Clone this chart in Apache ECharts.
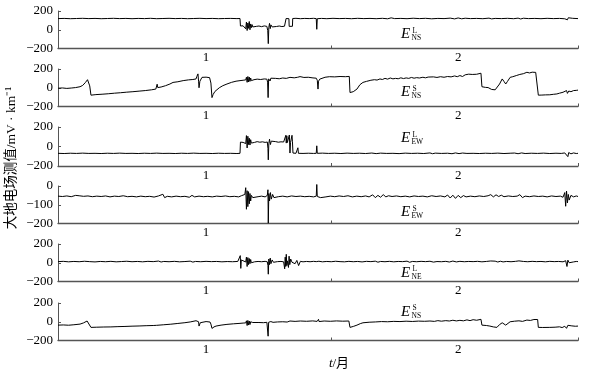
<!DOCTYPE html>
<html><head><meta charset="utf-8">
<script src="https://cdn.jsdelivr.net/npm/echarts@6/dist/echarts.min.js"></script>
<style>html,body{margin:0;padding:0;background:#fff}#c{width:589px;height:378px}</style>
</head><body><div id="c"></div>
<script>
// ---- data (x = day since start of month 1, y = mV/km) ----
const monthLabels = ['1', '2'];
const monthLabelDays = [16.8, 45.4];
const monthTickDays = [0, 31, 59];
const panelSup = ['L', 'S', 'L', 'S', 'L', 'S'];
const panelSub = ['NS', 'NS', 'EW', 'EW', 'NE', 'NS'];
const yTicksA = [-200, 0, 200];
const yTicksB = [-200, -100, 0];

const nsL = [[0,119],[0.7,121],[1.4,118],[2.1,120],[2.8,122],[3.5,119],[4.2,121],[4.9,118],[5.6,120],[6.3,122],[7.0,119],[7.7,121],[8.4,118],[9.1,121],[9.8,119],[10.5,122],[11.2,118],[11.9,120],[12.6,122],[13.3,119],[14.0,121],[14.7,118],[15.4,120],[16.1,122],[16.8,119],[17.5,121],[18.2,118],[18.9,120],[19.6,121],[20.3,119],[20.65,120],
[20.7,40],[20.85,25],[21.0,42],[21.15,30],[21.3,10],[21.38,82],[21.46,-8],[21.54,72],[21.62,15],[21.7,88],[21.78,0],[21.86,62],[21.94,22],[22.02,55],[22.1,30],[22.25,44],[22.5,36],[22.8,40],[23.1,33],[23.4,41],[23.7,36],[23.8,-10],[23.86,-148],[23.92,25],[24.0,68],[24.08,12],[24.16,52],[24.3,30],[24.5,42],[24.8,35],[25.1,40],[25.4,34],[25.7,38],[25.85,36],[25.88,120],[26.0,122],[26.2,118],[26.23,36],[26.4,33],[26.6,37],[26.63,120],[27.0,122],[27.5,118],[28.0,121],[28.5,119],[29.0,122],[29.3,119],[29.36,5],[29.42,118],[29.9,121],[30.5,118],[31.2,122],[31.9,119],[32.6,121],[33.3,118],[34.0,122],[34.7,119],[35.4,121],[36.1,118],[36.8,122],[37.4,117],[37.8,127],[38.2,119],[38.9,121],[39.6,118],[40.3,123],[41.0,119],[41.7,122],[42.4,117],[43.1,121],[43.8,119],[44.5,124],[45.0,116],[45.4,126],[45.8,117],[46.2,123],[46.8,119],[47.5,121],[48.2,118],[48.9,124],[49.2,116],[49.6,121],[50.3,119],[51.0,122],[51.7,118],[52.2,124],[52.5,115],[52.8,123],[53.4,119],[54.1,121],[54.8,118],[55.5,122],[56.2,119],[56.9,121],[57.5,117],[57.7,132],[57.8,106],[57.9,128],[58.1,114],[58.4,122],[59,119]];

const nsS = [[0,-5],[0.5,-2],[1.0,-7],[1.5,-3],[2.0,2],[2.5,11],[2.8,25],[3.1,55],[3.35,86],[3.5,70],[3.6,20],[3.74,-79],[4.3,-73],[5.0,-69],[5.7,-64],[6.4,-58],[7.1,-53],[7.8,-47],[8.5,-42],[9.2,-36],[9.9,-30],[10.6,-22],[11.1,-14],[11.2,-8],[11.25,38],[11.32,2],[11.7,8],[12.2,22],[12.7,40],[13.05,57],[13.6,64],[14.2,76],[14.8,84],[15.3,88],[15.66,94],[15.75,120],[15.88,148],[15.95,70],[16.0,0],[16.1,70],[16.34,111],[16.8,113],[17.2,108],[17.35,50],[17.47,-105],[17.6,-72],[17.8,-40],[17.93,-25],[18.3,0],[18.7,22],[19.17,40],[19.7,58],[20.2,70],[20.65,76],[21.0,80],[21.3,84],[21.38,112],[21.46,58],[21.54,120],[21.62,62],[21.7,114],[21.78,68],[21.86,104],[21.94,76],[22.05,96],[22.24,86],[22.6,92],[23.0,88],[23.4,94],[23.7,92],[23.78,60],[23.84,-105],[23.9,95],[23.98,112],[24.06,72],[24.15,102],[24.3,90],[24.7,100],[25.1,96],[25.5,104],[25.9,100],[26.32,111],[26.8,106],[27.2,112],[27.46,119],[27.9,110],[28.4,112],[28.93,105],[29.3,102],[29.42,80],[29.5,-14],[29.56,70],[29.7,92],[29.9,100],[30.3,112],[30.8,118],[31.4,116],[32.0,120],[32.6,118],[33.05,121],[33.13,-51],[33.5,-42],[33.92,-14],[34.25,32],[34.6,57],[35.0,68],[35.5,80],[35.9,86],[36.2,82],[36.53,94],[36.8,88],[37.1,100],[37.4,92],[37.7,104],[38.0,95],[38.3,100],[38.6,96],[38.9,106],[39.2,98],[39.5,105],[39.8,100],[40.1,110],[40.4,102],[40.7,108],[41.0,104],[41.4,112],[41.7,106],[42.0,114],[42.2,111],[42.6,116],[43.0,110],[43.4,118],[43.8,112],[44.2,120],[44.6,116],[45.0,126],[45.3,118],[45.6,130],[45.9,120],[46.2,138],[46.4,124],[46.6,145],[46.75,128],[47.0,142],[47.2,130],[47.5,144],[47.7,136],[47.99,155],[48.06,150],[48.1,11],[48.5,4],[48.8,2],[49.0,-3],[49.2,-18],[49.4,-32],[49.6,-22],[49.8,-14],[50.1,40],[50.4,94],[50.6,68],[50.8,40],[51.0,68],[51.3,111],[51.6,118],[51.8,106],[52.0,130],[52.2,118],[52.4,142],[52.6,128],[52.8,150],[53.0,140],[53.2,165],[53.5,158],[53.8,166],[54.2,164],[54.42,160],[54.5,-79],[54.9,-78],[55.3,-76],[55.8,-75],[56.2,-70],[56.6,-66],[56.9,-58],[57.1,-72],[57.3,-48],[57.5,-56],[57.7,-30],[57.8,-60],[57.95,-35],[58.2,-42],[58.5,-30],[58.8,-28],[59,-25]];

const ewL = [[0,-70],[0.7,-72],[1.4,-69],[2.1,-71],[2.8,-68],[3.5,-71],[4.2,-70],[4.9,-72],[5.6,-69],[6.3,-71],[7.0,-68],[7.7,-71],[8.4,-70],[9.1,-72],[9.8,-69],[10.5,-71],[11.2,-68],[11.9,-71],[12.6,-70],[13.3,-72],[14.0,-69],[14.7,-71],[15.4,-68],[16.1,-71],[16.8,-70],[17.5,-72],[18.2,-69],[18.9,-71],[19.6,-70],[20.3,-72],[20.65,-70],
[20.7,45],[20.85,52],[21.0,42],[21.15,50],[21.3,30],[21.38,112],[21.46,-15],[21.54,105],[21.62,20],[21.7,85],[21.78,15],[21.86,70],[21.94,35],[22.1,55],[22.3,42],[22.6,50],[22.9,44],[23.2,48],[23.5,42],[23.75,46],[23.82,-20],[23.86,-137],[23.92,30],[24.0,75],[24.1,20],[24.2,55],[24.4,45],[24.7,50],[25.0,44],[25.3,48],[25.6,46],[25.8,48],[25.85,115],[25.9,35],[25.96,110],[26.02,40],[26.2,42],[26.25,118],[26.32,-67],[26.38,40],[26.5,45],[26.55,115],[26.6,48],[26.66,-67],[27.0,-70],[27.15,-68],[27.22,-13],[27.28,-70],[27.8,-71],[28.4,-69],[29.0,-71],[29.3,-70],[29.36,7],[29.42,-70],[30.0,-68],[30.7,-71],[31.4,-69],[32.1,-72],[32.8,-68],[33.5,-71],[34.2,-69],[34.9,-72],[35.6,-67],[36.1,-73],[36.6,-68],[37.3,-71],[38.0,-70],[38.7,-73],[39.4,-68],[40.1,-71],[40.8,-69],[41.5,-72],[42.2,-66],[42.5,-74],[42.8,-68],[43.5,-71],[44.2,-69],[44.7,-74],[45.1,-66],[45.5,-73],[45.9,-67],[46.4,-71],[47.1,-70],[47.8,-72],[48.5,-69],[49.2,-71],[49.9,-68],[50.6,-72],[51.3,-69],[51.8,-67],[52.2,-74],[52.6,-66],[53.0,-72],[53.7,-69],[54.4,-71],[55.1,-68],[55.8,-72],[56.5,-69],[57.1,-71],[57.5,-66],[57.7,-80],[57.85,-104],[57.95,-62],[58.2,-75],[58.5,-66],[58.8,-72],[59,-70]];

const ewS = [[0,-54],[0.5,-56],[1.0,-53],[1.5,-57],[2.0,-50],[2.2,-43],[2.4,-52],[2.9,-55],[3.4,-53],[3.9,-57],[4.4,-54],[4.9,-56],[5.4,-53],[5.9,-58],[6.4,-54],[6.9,-56],[7.4,-52],[7.9,-57],[8.4,-55],[8.9,-58],[9.4,-54],[9.9,-57],[10.4,-55],[10.9,-59],[11.4,-53],[11.9,-44],[12.1,-62],[12.4,-55],[12.9,-58],[13.4,-54],[13.9,-57],[14.4,-55],[14.9,-60],[15.2,-50],[15.5,-58],[16.0,-54],[16.5,-57],[17.0,-55],[17.5,-58],[18.0,-54],[18.5,-56],[19.0,-53],[19.5,-57],[20.0,-55],[20.5,-58],[20.8,-52],[21.0,-60],[21.2,-45],[21.3,-9],[21.38,-124],[21.46,-25],[21.54,-110],[21.62,-30],[21.7,-95],[21.78,-40],[21.86,-80],[21.94,-50],[22.1,-62],[22.3,-52],[22.7,-57],[23.1,-54],[23.5,-58],[23.75,-50],[23.82,-20],[23.86,-198],[23.92,-40],[24.0,-80],[24.1,-35],[24.2,-70],[24.35,-45],[24.5,-62],[24.7,-52],[25.0,-57],[25.5,-54],[26.0,-58],[26.5,-53],[27.0,-56],[27.5,-54],[28.0,-57],[28.5,-55],[29.0,-58],[29.3,-54],[29.36,8],[29.42,-56],[29.6,-50],[29.8,-62],[30.0,-52],[30.4,-58],[30.9,-54],[31.4,-57],[31.9,-53],[32.4,-56],[32.9,-52],[33.4,-58],[33.9,-54],[34.4,-57],[34.9,-53],[35.3,-58],[35.7,-47],[36.0,-62],[36.3,-50],[36.6,-60],[36.9,-46],[37.2,-58],[37.5,-52],[37.9,-56],[38.4,-53],[38.9,-57],[39.4,-54],[39.9,-58],[40.4,-53],[40.9,-56],[41.4,-54],[41.9,-58],[42.4,-52],[42.9,-56],[43.4,-53],[43.9,-58],[44.2,-48],[44.5,-64],[44.8,-49],[45.1,-66],[45.4,-50],[45.7,-62],[46.0,-51],[46.3,-58],[46.8,-54],[47.3,-57],[47.8,-53],[48.3,-56],[48.8,-52],[49.1,-46],[49.4,-58],[49.7,-47],[50.0,-56],[50.3,-49],[50.6,-57],[51.1,-53],[51.6,-56],[52.1,-54],[52.4,-46],[52.7,-62],[53.0,-54],[53.5,-57],[54.0,-53],[54.5,-56],[55.0,-54],[55.5,-58],[56.0,-53],[56.5,-56],[57.0,-54],[57.3,-60],[57.5,-35],[57.6,-108],[57.7,-27],[57.8,-90],[57.9,-45],[58.0,-75],[58.2,-50],[58.5,-58],[58.8,-53],[59,-56]];

const neL = [[0,12],[0.6,15],[1.2,10],[1.8,14],[2.4,11],[3.0,16],[3.6,12],[4.2,9],[4.8,14],[5.4,11],[6.0,15],[6.6,10],[7.2,13],[7.8,16],[8.4,11],[9.0,14],[9.6,10],[10.2,15],[10.8,12],[11.4,18],[11.7,8],[12.0,14],[12.6,11],[13.2,15],[13.8,10],[14.4,13],[15.0,17],[15.3,7],[15.6,14],[16.2,11],[16.8,15],[17.4,12],[18.0,14],[18.6,10],[19.2,13],[19.8,11],[20.4,14],[20.6,10],[20.68,76],[20.74,-60],[20.8,30],[20.9,10],[21.0,14],[21.3,8],[21.38,60],[21.46,-40],[21.54,55],[21.62,-20],[21.7,45],[21.78,-10],[21.86,35],[21.94,0],[22.1,18],[22.3,10],[22.7,14],[23.1,11],[23.5,15],[23.75,10],[23.82,-30],[23.86,-122],[23.92,40],[24.0,-20],[24.08,50],[24.16,-10],[24.3,30],[24.45,5],[24.6,18],[24.9,12],[25.3,14],[25.6,10],[25.72,-65],[25.78,60],[25.84,-40],[25.9,90],[25.96,-30],[26.02,20],[26.15,-50],[26.22,70],[26.3,-20],[26.4,40],[26.55,5],[26.7,20],[26.9,-10],[27.1,25],[27.3,-30],[27.5,15],[27.8,10],[28.2,14],[28.6,11],[29.0,15],[29.3,12],[29.6,16],[30.0,10],[30.5,14],[31.0,11],[31.5,16],[32.0,12],[32.5,10],[33.0,15],[33.5,11],[34.0,14],[34.5,9],[35.0,15],[35.5,12],[36.0,17],[36.3,6],[36.6,14],[37.1,11],[37.6,15],[38.1,10],[38.6,14],[39.1,12],[39.6,17],[39.9,5],[40.2,14],[40.7,11],[41.2,15],[41.7,12],[42.2,16],[42.6,7],[43.0,13],[43.5,11],[44.0,15],[44.4,8],[44.8,18],[45.2,9],[45.6,15],[46.1,11],[46.6,14],[47.1,12],[47.6,15],[48.1,10],[48.6,14],[49.1,19],[49.3,5],[49.6,17],[49.9,8],[50.2,16],[50.5,9],[50.9,14],[51.4,11],[51.9,15],[52.3,20],[52.5,2],[52.8,14],[53.3,11],[53.8,15],[54.3,12],[54.8,14],[55.3,10],[55.8,15],[56.3,12],[56.8,14],[57.3,10],[57.6,22],[57.75,-40],[57.85,28],[58.0,0],[58.2,18],[58.5,9],[58.8,14],[59,12]];

const neS = [[0,-36],[0.6,-34],[1.2,-37],[1.8,-32],[2.5,-25],[2.9,-12],[3.3,8],[3.5,-5],[3.74,-60],[4.4,-58],[5.2,-56],[6.0,-55],[6.8,-52],[7.6,-50],[8.4,-47],[9.2,-45],[10.0,-42],[10.8,-40],[11.2,-38],[11.25,-22],[11.32,-38],[12.0,-32],[12.8,-26],[13.6,-18],[14.4,-10],[15.0,-2],[15.66,11],[15.88,26],[15.95,0],[16.0,-46],[16.15,-10],[16.34,4],[16.8,2],[17.25,-3],[17.35,-25],[17.47,-71],[17.7,-55],[17.93,-46],[18.5,-36],[19.17,-28],[19.9,-22],[20.65,-17],[21.0,-14],[21.3,-12],[21.38,10],[21.46,-40],[21.54,14],[21.62,-35],[21.7,8],[21.78,-30],[21.86,0],[21.94,-20],[22.1,-8],[22.3,-12],[22.8,-8],[23.3,-10],[23.7,-6],[23.78,-20],[23.84,-154],[23.9,-5],[23.98,10],[24.06,-20],[24.15,2],[24.4,-6],[24.9,-2],[25.5,0],[26.0,-3],[26.32,8],[26.9,4],[27.5,8],[28.2,5],[28.9,9],[29.4,4],[29.5,-15],[29.56,26],[29.62,2],[30.2,8],[30.9,5],[31.6,9],[32.3,6],[33.0,8],[33.13,-60],[33.5,-50],[33.92,-36],[34.3,-20],[34.6,-11],[35.3,-5],[36.0,-2],[36.7,2],[37.4,0],[38.1,4],[38.8,2],[39.5,6],[40.2,3],[40.9,7],[41.6,5],[42.2,8],[42.7,4],[43.1,12],[43.5,6],[44.0,12],[44.4,8],[44.8,16],[45.2,9],[45.6,15],[46.0,10],[46.4,20],[46.75,12],[47.1,22],[47.5,16],[47.99,26],[48.06,22],[48.1,-36],[48.6,-40],[49.0,-46],[49.4,-55],[49.8,-60],[50.1,-30],[50.4,-11],[50.6,-25],[50.8,-36],[51.0,-15],[51.3,0],[51.8,6],[52.3,10],[52.7,4],[53.2,18],[53.6,14],[54.0,24],[54.2,26],[54.42,24],[54.5,-60],[55.0,-61],[55.8,-60],[56.4,-58],[56.9,-54],[57.2,-62],[57.5,-48],[57.7,-70],[57.85,-38],[58.0,-55],[58.3,-44],[58.7,-48],[59,-46]];

// ---- layout ----
const seriesList = [nsL, nsS, ewL, ewS, neL, neS];
const yTickSets = [yTicksA, yTicksA, yTicksA, yTicksB, yTicksA, yTicksA];
const gridTops = [11, 69, 127, 186, 244, 303];
const gridHeights = [37.5, 37.5, 39, 37.5, 37.5, 37.5];
const labelCY = [34.3, 92.3, 138.3, 212.3, 272.7, 311.7];

const SERIF = '"Liberation Serif", "Times New Roman", serif';
const AXC = '#555';

const grids = [], xAxes = [], yAxes = [], series = [], graphics = [];
seriesList.forEach((data, i) => {
  const yt = yTickSets[i];
  grids.push({ left: 58, right: 11, top: gridTops[i], height: gridHeights[i], containLabel: false });
  xAxes.push({
    type: 'value', gridIndex: i, min: monthTickDays[0], max: monthTickDays[monthTickDays.length - 1],
    axisLine: { show: true, onZero: false, lineStyle: { color: AXC, width: 1.3 } },
    axisTick: { show: true, inside: true, length: 3, customValues: monthTickDays, lineStyle: { color: AXC } },
    axisLabel: {
      show: true, margin: 3, customValues: monthLabelDays, color: '#000', fontFamily: SERIF, fontSize: 13,
      formatter: v => {
        let best = 0, bd = 1e9;
        monthLabelDays.forEach((d, k) => { if (Math.abs(d - v) < bd) { bd = Math.abs(d - v); best = k; } });
        return monthLabels[best];
      }
    },
    splitLine: { show: false }
  });
  yAxes.push({
    type: 'value', gridIndex: i, min: yt[0], max: yt[yt.length - 1], interval: yt[1] - yt[0],
    axisLine: { show: true, onZero: false, lineStyle: { color: AXC, width: 1 } },
    axisTick: { show: true, inside: true, length: 3, lineStyle: { color: AXC } },
    axisLabel: { margin: 5, color: '#000', fontFamily: SERIF, fontSize: 13,
      formatter: v => String(v).replace('-', '\u2212') },
    splitLine: { show: false }
  });
  series.push({
    type: 'line', xAxisIndex: i, yAxisIndex: i, data: data, showSymbol: false, symbol: 'none',
    clip: false, animation: false, silent: true,
    lineStyle: { color: '#000', width: 1 }
  });
  const cy = labelCY[i];
  graphics.push(
    { type: 'text', x: 401, y: cy, silent: true,
      style: { text: 'E', fontFamily: SERIF, fontStyle: 'italic', fontSize: 15, fill: '#000', align: 'left', verticalAlign: 'middle' } },
    { type: 'text', x: 412.5, y: cy - 3.2, silent: true,
      style: { text: panelSup[i], fontFamily: SERIF, fontSize: 7.5, fill: '#000', align: 'left', verticalAlign: 'middle' } },
    { type: 'text', x: 411.5, y: cy + 4, silent: true,
      style: { text: panelSub[i], fontFamily: SERIF, fontSize: 7.5, fill: '#000', align: 'left', verticalAlign: 'middle' } }
  );
});

graphics.push(
  { type: 'text', x: 11, y: 158, rotation: Math.PI / 2, silent: true,
    style: { text: '大地电场测值/mV · km⁻¹', fontFamily: '"Liberation Serif", "Noto Sans CJK SC"', fontSize: 13.5,
      fill: '#000', align: 'center', verticalAlign: 'middle' } },
  { type: 'text', x: 339, y: 364, silent: true,
    style: { text: '{i|t}/月', fontFamily: '"Liberation Serif", "Noto Sans CJK SC"', fontSize: 13, fill: '#000',
      align: 'center', verticalAlign: 'middle',
      rich: { i: { fontStyle: 'italic', fontFamily: SERIF, fontSize: 13, fill: '#000' } } } }
);

const chart = echarts.init(document.getElementById('c'), null, { renderer: 'canvas' });
chart.setOption({
  backgroundColor: '#fff',
  animation: false,
  grid: grids, xAxis: xAxes, yAxis: yAxes, series: series, graphic: graphics
});
</script></body></html>
